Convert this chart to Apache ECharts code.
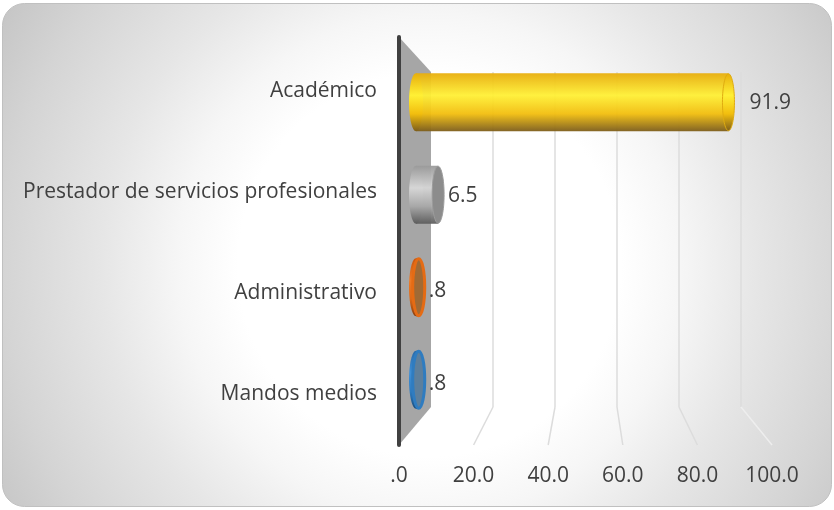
<!DOCTYPE html>
<html><head><meta charset="utf-8">
<style>html,body{margin:0;padding:0;background:#fff}#c{width:834px;height:510px}</style>
<script src="https://cdn.jsdelivr.net/npm/echarts@6/dist/echarts.min.js"></script>
</head><body><div id="c"></div>
<script>
var categories = ['Mandos medios', 'Administrativo', 'Prestador de servicios profesionales', 'Académico'];
var values = [0.8, 0.8, 6.5, 91.9];
var axisTicks = [0, 20, 40, 60, 80, 100];
var bandColors = [
  ['#2a6aa8', '#3f8fd6', '#2f7cc0', '#1b4f80'],
  ['#c9570f', '#ee7a25', '#dd6a18', '#8a3f10'],
  ['#9a9a9a', '#d6d6d6', '#a8a8a8', '#5c5c5c'],
  ['#e8ae0c', '#fff035', '#f2be0e', '#7d5d1a']
];
var endColors = ['#5d7f9c', '#a06a35', '#8c8c8c', null];
var rimColors = ['#2f7cc0', '#e56b14', '#9c9c9c', '#e0ac10'];

var FONT = '"Open Sans", sans-serif';
var chart = echarts.init(document.getElementById('c'), null, {renderer: 'canvas'});

function fmt(v) { return v === 0 ? '.0' : v.toFixed(1).replace(/^0/, ''); }

function hiddenX(i, extra) {
  return Object.assign({type: 'value', gridIndex: i, min: 0, max: 100, interval: 20,
    axisLine: {show: false}, axisTick: {show: false}, axisLabel: {show: false}, splitLine: {show: false}}, extra || {});
}
function hiddenY(i, extra) {
  return Object.assign({type: 'category', gridIndex: i, data: categories,
    axisLine: {show: false}, axisTick: {show: false}, axisLabel: {show: false}, splitLine: {show: false}}, extra || {});
}

chart.setOption({
  animation: false,
  graphic: [{
    type: 'rect', z: -10, silent: true,
    shape: {x: 2.5, y: 3.5, width: 829, height: 503, r: 22},
    style: {
      fill: {type: 'radial', x: 0.515, y: 0.52, r: 1.0, colorStops: [
        {offset: 0, color: '#ffffff'}, {offset: 0.38, color: '#ffffff'}, {offset: 0.5, color: '#f6f6f6'},
        {offset: 0.65, color: '#e6e6e6'}, {offset: 0.85, color: '#d4d4d4'}, {offset: 1, color: '#c4c4c4'}]},
      stroke: '#c0c0c0', lineWidth: 1
    }
  }],
  grid: [
    {left: 399, width: 373, top: 37, height: 408},
    {left: 416, width: 340, top: 56, height: 370},
    {left: 431, width: 310, top: 72, height: 335},
    {left: 399, width: 373, top: 41, height: 404}
  ],
  xAxis: [
    hiddenX(0, {axisLabel: {show: true, formatter: fmt, color: '#404040', fontFamily: FONT, fontSize: 21, margin: 21}}),
    hiddenX(1),
    hiddenX(2, {splitLine: {show: true, showMinLine: false, lineStyle: {color: ['#dcdcdc', '#dcdcdc', '#dcdcdc', '#dcdcdc', '#dcdcdc', '#e6e6e6'], width: 1.5}}}),
    hiddenX(3)
  ],
  yAxis: [
    hiddenY(0),
    hiddenY(1),
    hiddenY(2),
    hiddenY(3, {axisLabel: {show: true, color: '#404040', fontFamily: FONT, fontSize: 21, margin: 22}})
  ]
});

function px(grid, x, y) { return chart.convertToPixel({gridIndex: grid}, [x, y]); }
function bandEdges(grid) {
  var b = px(grid, 0, 0)[1], a = px(grid, 0, 1)[1], h = Math.abs(b - a);
  return {bottom: b + h / 2, top: b - 3 * h - h / 2};
}

function renderWall() {
  var f = bandEdges(0), k = bandEdges(2);
  var x0 = px(0, 0, 0)[0], x1 = px(2, 0, 0)[0];
  return {type: 'group', children: [
    {type: 'polygon', shape: {points: [[x0, f.top], [x1, k.top], [x1, k.bottom], [x0, f.bottom]]},
     style: {fill: '#a6a6a6'}},
    {type: 'line', shape: {x1: x0, y1: f.top, x2: x0, y2: f.bottom},
     style: {stroke: '#404040', lineWidth: 4, lineCap: 'round'}}
  ]};
}
function renderFloor(params, api) {
  var t = api.value(0);
  var f = bandEdges(0), k = bandEdges(2);
  return {type: 'line',
    shape: {x1: px(2, t, 0)[0], y1: k.bottom, x2: px(0, t, 0)[0], y2: f.bottom},
    style: {stroke: t === 100 ? '#eeeeee' : '#dcdcdc', lineWidth: 1.5}};
}
function renderBar(params, api) {
  var i = params.dataIndex, v = api.value(0);
  var p0 = api.coord([0, i]), p1 = api.coord([v, i]);
  var H = 58, rx = 7, cy = p0[1];
  var c = bandColors[i];
  var grad = {type: 'linear', x: 0, y: 0, x2: 0, y2: 1, colorStops: [
    {offset: 0, color: c[0]}, {offset: 0.38, color: c[1]}, {offset: 0.7, color: c[2]}, {offset: 1, color: c[3]}]};
  var kids = [
    {type: 'ellipse', shape: {cx: p0[0], cy: cy, rx: rx, ry: H / 2}, style: {fill: grad}},
    {type: 'rect', shape: {x: p0[0], y: cy - H / 2, width: Math.max(p1[0] - p0[0], 0), height: H},
     style: {fill: grad, opacity: 0.95}},
    {type: 'ellipse', shape: {cx: p1[0], cy: cy, rx: rx - 1, ry: H / 2 - 0.5},
     style: {fill: endColors[i] || grad, stroke: rimColors[i], lineWidth: v > 2 ? 1 : 3}},
    {type: 'text', style: {x: p1[0] + rx + (v > 50 ? 14 : 3), y: cy + (v < 2 ? 4 : 1), text: fmt(v), fill: '#404040',
      font: '21px ' + FONT, textAlign: 'left', textVerticalAlign: 'middle'}}
  ];
  return {type: 'group', children: kids};
}

chart.setOption({
  series: [
    {type: 'custom', xAxisIndex: 0, yAxisIndex: 0, z: 2, silent: true, clip: false,
     data: [0], renderItem: renderWall},
    {type: 'custom', xAxisIndex: 0, yAxisIndex: 0, z: 1, silent: true, clip: false,
     data: axisTicks.slice(1).map(function (t) { return [t]; }), renderItem: renderFloor,
     encode: {x: 0}},
    {type: 'custom', xAxisIndex: 1, yAxisIndex: 1, z: 3, silent: true, clip: false,
     data: values.map(function (v) { return [v]; }), renderItem: renderBar,
     encode: {x: 0}}
  ]
});
</script></body></html>
